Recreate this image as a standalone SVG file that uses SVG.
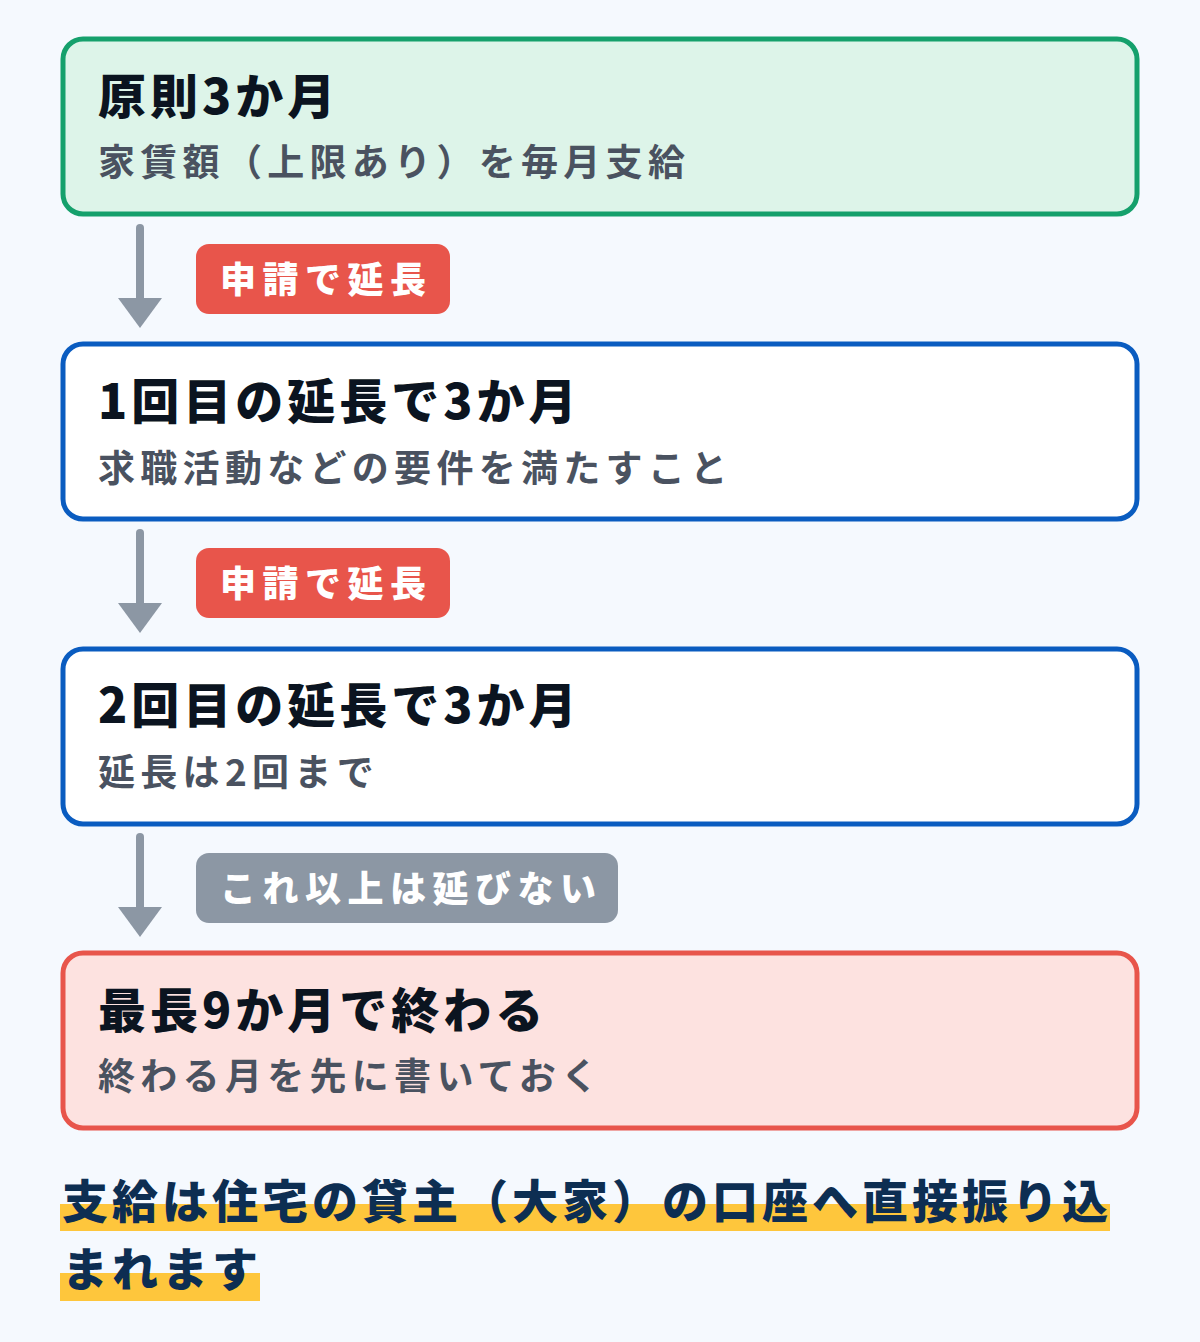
<svg xmlns="http://www.w3.org/2000/svg" width="1200" height="1342" viewBox="0 0 1200 1342">
<defs>
<style>
text{font-family:"Noto Sans CJK JP","Noto Sans",sans-serif;}
.ttl{font-size:48px;font-weight:900;fill:#0b1420;letter-spacing:4px;}
.sub{font-size:37px;font-weight:600;fill:#4a5260;letter-spacing:5.3px;}
.pill{font-size:36px;font-weight:900;fill:#ffffff;letter-spacing:6.5px;}
.foot{font-size:46px;font-weight:900;fill:#0d2e52;letter-spacing:4px;}
.ln{stroke:#8c97a4;stroke-width:8;stroke-linecap:round;fill:none;}
</style>
</defs>
<rect x="0" y="0" width="1200" height="1342" fill="#f5f9fe"/>
<g id="connectors">
<line class="ln" x1="140" y1="228" x2="140" y2="298"/>
<path d="M118,298 L162,298 L140,328 Z" fill="#8c97a4"/>
<line class="ln" x1="140" y1="533" x2="140" y2="603"/>
<path d="M118,603 L162,603 L140,633 Z" fill="#8c97a4"/>
<line class="ln" x1="140" y1="837" x2="140" y2="907"/>
<path d="M118,907 L162,907 L140,937 Z" fill="#8c97a4"/>
</g>
<g id="pill1"><rect x="196" y="244" width="254" height="70" rx="13" fill="#e8554b"/><text class="pill" x="220" y="293">申請で延長</text></g>
<g id="pill2"><rect x="196" y="548" width="254" height="70" rx="13" fill="#e8554b"/><text class="pill" x="220" y="597">申請で延長</text></g>
<g id="pill3"><rect x="196" y="853" width="422" height="70" rx="13" fill="#8c97a4"/><text class="pill" x="220" y="902">これ以上は延びない</text></g>
<g id="node1"><rect x="63" y="39" width="1074" height="175" rx="20" fill="#ddf4e9" stroke="#15a06c" stroke-width="5"/><text class="ttl" x="98" y="114">原則3か月</text><text class="sub" x="98" y="176">家賃額（上限あり）を毎月支給</text></g>
<g id="node2"><rect x="63" y="344" width="1074" height="175" rx="20" fill="#ffffff" stroke="#0a5cc0" stroke-width="5"/><text class="ttl" x="98" y="419">1回目の延長で3か月</text><text class="sub" x="98" y="482">求職活動などの要件を満たすこと</text></g>
<g id="node3"><rect x="63" y="649" width="1074" height="175" rx="20" fill="#ffffff" stroke="#0a5cc0" stroke-width="5"/><text class="ttl" x="98" y="723">2回目の延長で3か月</text><text class="sub" x="98" y="786">延長は2回まで</text></g>
<g id="node4"><rect x="63" y="953" width="1074" height="175" rx="20" fill="#fde2e0" stroke="#e8554b" stroke-width="5"/><text class="ttl" x="98" y="1028">最長9か月で終わる</text><text class="sub" x="98" y="1090">終わる月を先に書いておく</text></g>
<g id="footnote">
<rect x="60" y="1204" width="1050" height="27" fill="#fec63c"/>
<rect x="60" y="1273" width="200" height="28" fill="#fec63c"/>
<text class="foot" x="62" y="1218">支給は住宅の貸主（大家）の口座へ直接振り込</text>
<text class="foot" x="62" y="1286">まれます</text>
</g>
</svg>
